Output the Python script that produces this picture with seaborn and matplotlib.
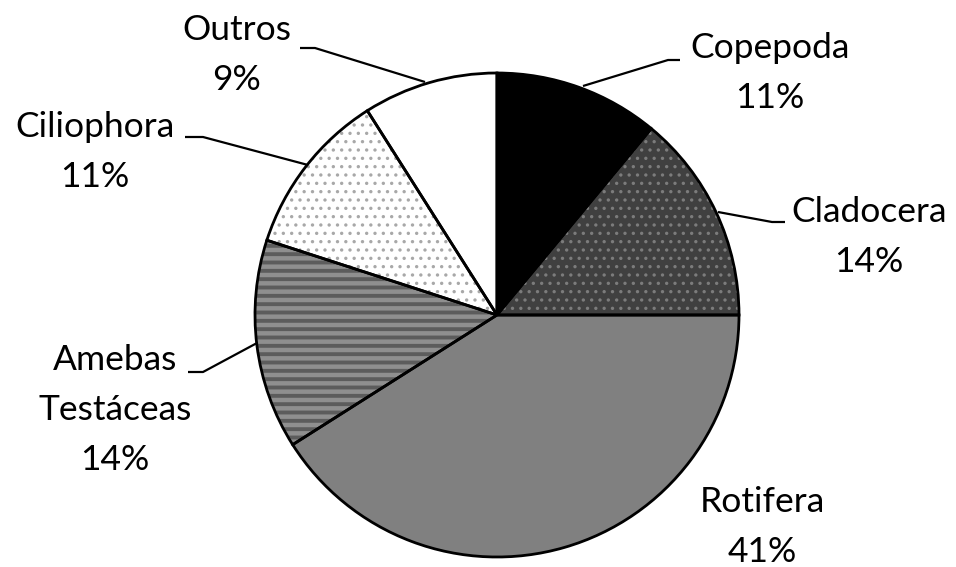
import matplotlib
matplotlib.use("Agg")
import matplotlib.pyplot as plt
import seaborn as sns

# ---- data ----
categories = ["Copepoda", "Cladocera", "Rotifera", "Amebas\nTestáceas", "Ciliophora", "Outros"]
values = [11, 14, 41, 14, 11, 9]

sns.set_theme(style="white")
plt.rcParams["font.family"] = ["Lato", "DejaVu Sans"]

W, H = 956, 567
fig = plt.figure(figsize=(W / 100, H / 100), dpi=100)
ax = fig.add_axes([0, 0, 1, 1])

face_colors = ["#000000", "#404040", "#808080", "#8f8f8f", "#ffffff", "#ffffff"]
hatch_colors = ["#000000", "#7c7c7c", "#808080", "#5c5c5c", "#a8a8a8", "#ffffff"]
hatches = [None, "..", None, "--", "..", None]
hatch_lw = [1.0, 1.2, 1.0, 2.8, 1.2, 1.0]

cx, cy, r = 497, H - 315, 242

wedges, _ = ax.pie(values, startangle=90, counterclock=False, colors=face_colors,
                   center=(cx, cy), radius=r, wedgeprops=dict(linewidth=0))
for w, hc, ht, hl in zip(wedges, hatch_colors, hatches, hatch_lw):
    w.set_edgecolor(hc)
    w.set_linewidth(0)
    if ht:
        w.set_hatch(ht)
        if hasattr(w, "set_hatch_linewidth"):
            w.set_hatch_linewidth(hl)

outline, _ = ax.pie(values, startangle=90, counterclock=False, center=(cx, cy), radius=r,
                    wedgeprops=dict(fill=False, edgecolor="black", linewidth=2))

# label layout (pixel coords, y from top)
label_pos = [(770, 48), (869, 212), (762, 502), (115, 360), (95, 127), (237, 30)]
leaders = [
    [(583, 86), (668, 60), (680, 60)],
    [(718, 212), (772, 222), (785, 222)],
    None,
    [(257, 343), (203, 372), (188, 372)],
    [(308, 165), (203, 137), (185, 137)],
    [(425, 82), (315, 48), (300, 48)],
]
line_gap = 50
for cat, val, (lx, ly), ld in zip(categories, values, label_pos, leaders):
    lines = cat.split("\n") + [f"{val}%"]
    for i, t in enumerate(lines):
        ax.text(lx, H - (ly + i * line_gap), t, ha="center", va="center",
                fontsize=25.5, color="black")
    if ld:
        xs = [p[0] for p in ld]
        ys = [H - p[1] for p in ld]
        ax.plot(xs, ys, color="black", linewidth=1.6, solid_capstyle="butt")

ax.set_xlim(0, W)
ax.set_ylim(0, H)
ax.set_aspect("auto")
ax.axis("off")
fig.savefig("out.png", dpi=100, facecolor="white")
